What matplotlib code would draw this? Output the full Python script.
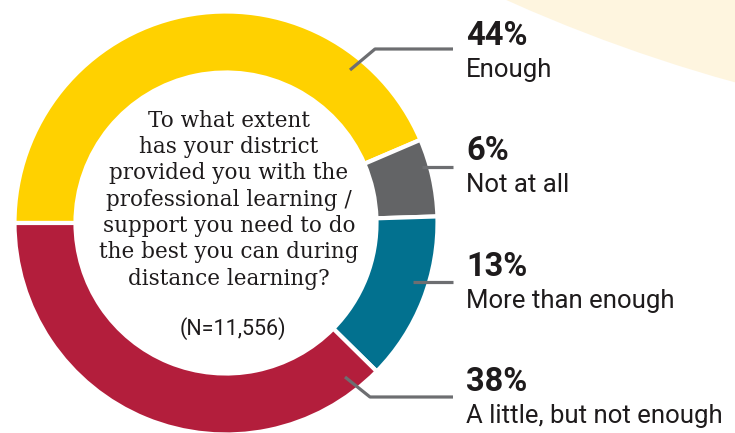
import matplotlib
matplotlib.use('Agg')
import matplotlib.pyplot as plt
from matplotlib.patches import Circle

# survey answers, in drawing order (clockwise from 9 o'clock)
answers = ['Enough', 'Not at all', 'More than enough', 'A little, but not enough']
shares = [44, 6, 13, 38]
colors = ['#FFD100', '#636466', '#02718F', '#B31E3C']

question = ("To what extent\nhas your district\nprovided you with the\n"
            "professional learning /\nsupport you need to do\n"
            "the best you can during\ndistance learning?")
n_note = '(N=11,556)'

W, H = 735, 433
ink = '#1E1B1C'
line_col = '#6D6E71'

fig = plt.figure(figsize=(W / 100, H / 100), dpi=100)
ax = fig.add_axes([0, 0, 1, 1])


def py(y):
    # pixel row (from top) -> data y
    return H - y


# pale background disc in the corner
ax.add_patch(Circle((1160, py(-1457)), 1597, color='#FEF5DF', zorder=0, lw=0))

cx, cy = 226, py(223)
ax.pie(shares, colors=colors, startangle=180, counterclock=False,
       radius=211.5, center=(cx, cy),
       wedgeprops=dict(width=61, edgecolor='white', linewidth=3))

# leader lines (pixel coords)
leaders = [
    [(350, 70), (375, 49), (453, 49)],
    [(422, 167), (453, 167)],
    [(413, 282), (453, 282)],
    [(345, 377), (370, 397), (453, 397)],
]
for pts in leaders:
    xs = [p[0] for p in pts]
    ys = [py(p[1]) for p in pts]
    ax.plot(xs, ys, color=line_col, lw=2.3, solid_capstyle='butt', zorder=5)

pct_base = [45, 160, 276, 391]
for share, name, yb in zip(shares, answers, pct_base):
    ax.text(466, py(yb), f'{share}%', fontsize=23.5, fontweight='bold',
            family='Roboto', color=ink, va='baseline', ha='left')
    ax.text(466, py(yb + 32), name, fontsize=18.5, family='Roboto',
            color=ink, va='baseline', ha='left')

ax.text(229, py(110), question, fontsize=15.5, family='DejaVu Serif',
        color=ink, ha='center', va='top', multialignment='center',
        linespacing=1.25)
ax.text(233, py(335), n_note, fontsize=15.5, family='Roboto', color=ink,
        ha='center', va='baseline')

ax.set_xlim(0, W)
ax.set_ylim(0, H)
ax.set_aspect('equal')
ax.axis('off')

fig.savefig('out.png', dpi=100)
